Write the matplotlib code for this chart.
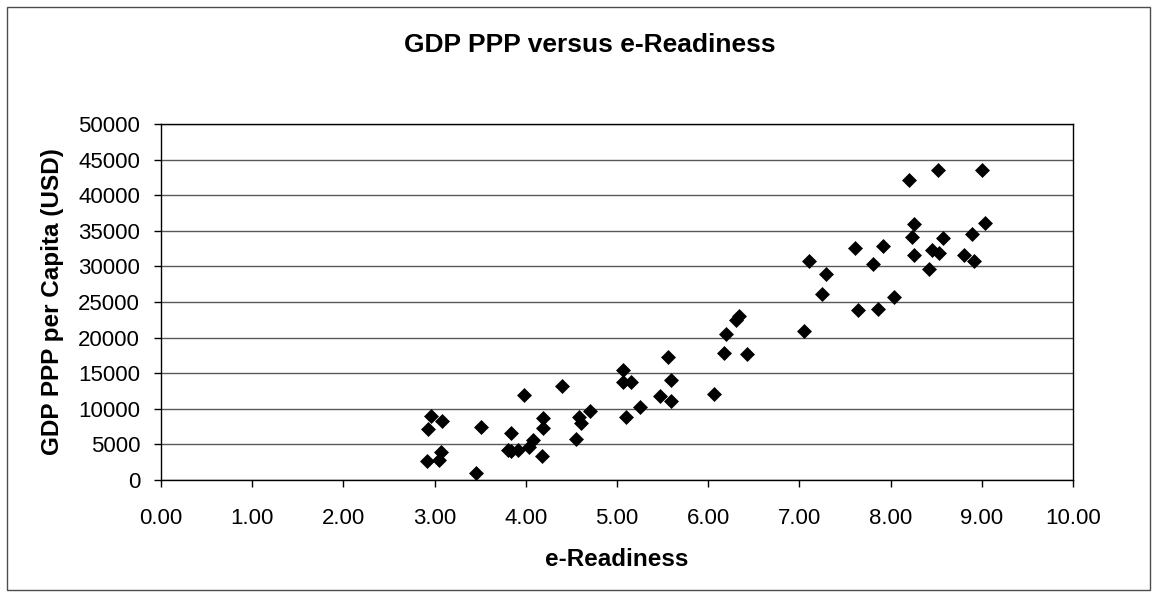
import matplotlib
matplotlib.use("Agg")
import matplotlib.pyplot as plt
from matplotlib.patches import Rectangle

plt.rcParams["font.family"] = ["Liberation Sans", "DejaVu Sans"]

# e-Readiness score and GDP PPP per capita (USD) per country
readiness = [
    2.92, 3.05, 3.07, 2.93, 2.96, 3.08, 3.45, 3.51, 3.84, 3.80,
    3.84, 3.91, 4.04, 4.08, 4.18, 3.98, 4.19, 4.19, 4.40, 4.55,
    4.58, 4.60, 4.70, 5.07, 5.07, 5.15, 5.10, 5.25, 5.47, 5.59,
    5.59, 5.56, 6.06, 6.17, 6.43, 6.19, 6.30, 6.34, 7.05, 7.25,
    7.29, 7.11, 7.64, 7.86, 8.04, 7.61, 7.92, 7.81, 8.20, 8.52,
    9.00, 8.26, 8.24, 8.26, 8.42, 8.45, 8.53, 8.57, 8.81, 8.91,
    8.89, 9.03,
]
gdp_ppp = [
    2600, 2800, 4000, 7200, 9000, 8300, 1000, 7500, 6600, 4150,
    4050, 4280, 4640, 5650, 3380, 11900, 7360, 8650, 13190, 5690,
    8890, 8060, 9720, 15510, 13720, 13720, 8900, 10190, 11760, 11130,
    14070, 17260, 12100, 17820, 17640, 20530, 22430, 23040, 20860, 26070,
    28890, 30720, 23860, 23990, 25740, 32610, 32840, 30270, 42160, 43510,
    43510, 35950, 34190, 31580, 29680, 32300, 31930, 33960, 31620, 30720,
    34500, 36110,
]

x_ticks = [0, 1, 2, 3, 4, 5, 6, 7, 8, 9, 10]
y_ticks = [0, 5000, 10000, 15000, 20000, 25000, 30000, 35000, 40000, 45000, 50000]

fig = plt.figure(figsize=(11.59, 6.0), dpi=100)
fig.patches.append(Rectangle((0.006, 0.017), 0.986, 0.971, transform=fig.transFigure,
                             fill=False, edgecolor="0.3", linewidth=1))

ax = fig.add_axes([0.1389, 0.2, 0.7869, 0.5933])
ax.scatter(readiness, gdp_ppp, marker="D", s=58, color="black", zorder=3, linewidths=0)

ax.set_xlim(0, 10)
ax.set_ylim(0, 50000)
ax.set_xticks(x_ticks)
ax.set_xticklabels([f"{t:.2f}" for t in x_ticks])
ax.set_yticks(y_ticks)
ax.set_yticklabels([str(t) for t in y_ticks])
ax.yaxis.grid(True, color="0.35", linewidth=1)
ax.set_axisbelow(True)
for side in ["left", "bottom", "top", "right"]:
    ax.spines[side].set_color("black")
    ax.spines[side].set_linewidth(1)
ax.tick_params(axis="both", direction="out", length=5, width=1, labelsize=16, colors="black")
ax.tick_params(axis="y", pad=10)
ax.tick_params(axis="x", pad=15)

ax.set_xlabel("e-Readiness", fontsize=17.5, fontweight="bold", labelpad=14)
ax.set_ylabel("GDP PPP per Capita (USD)", fontsize=17.5, fontweight="bold", labelpad=10)
fig.text(0.509, 0.925, "GDP PPP versus e-Readiness", ha="center", va="center",
         fontsize=19, fontweight="bold")

fig.savefig("out.png", dpi=100)
